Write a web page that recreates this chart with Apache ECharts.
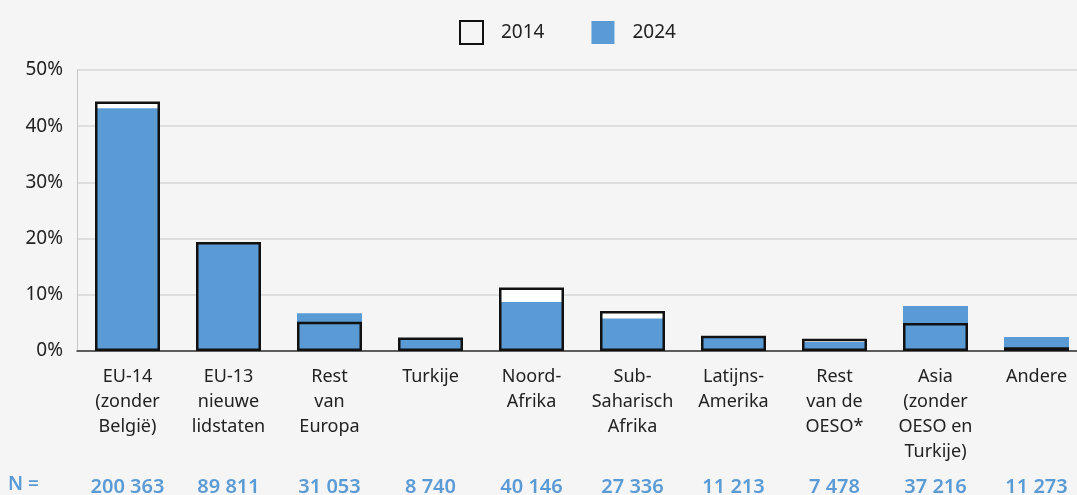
<!DOCTYPE html>
<html lang="nl">
<head>
    <meta charset="UTF-8">
    <title>Herkomst 2014 - 2024</title>
    <script src="https://cdn.jsdelivr.net/npm/echarts@6/dist/echarts.min.js"></script>
    <style>
        html, body { margin: 0; padding: 0; background: #f5f5f5; }
        #chart { width: 1077px; height: 495px; }
    </style>
</head>
<body>
<div id="chart"></div>
<script type="text/javascript">
    // categorieën en waarden (in %)
    let categories = ['EU-14\n(zonder\nBelgië)', 'EU-13\nnieuwe\nlidstaten', 'Rest\nvan\nEuropa', 'Turkije',
        'Noord-\nAfrika', 'Sub-\nSaharisch\nAfrika', 'Latijns-\nAmerika', 'Rest\nvan de\nOESO*',
        'Asia\n(zonder\nOESO en\nTurkije)', 'Andere'];
    let values2014 = [44.4, 19.4, 5.2, 2.4, 11.3, 7.1, 2.7, 2.2, 5.0, 0.65];
    let values2024 = [43.2, 19.3, 6.7, 2.1, 8.7, 5.8, 2.6, 1.6, 8.0, 2.5];
    let nLabels = ['200 363', '89 811', '31 053', '8 740', '40 146', '27 336', '11 213', '7 478', '37 216', '11 273'];

    let blue = '#5a9bd5';
    let font = 'Noto Sans';

    let option = {
        backgroundColor: '#f5f5f5',
        textStyle: { fontFamily: font },
        animation: false,
        legend: {
            left: 454,
            top: 15,
            icon: 'rect',
            itemWidth: 23,
            itemHeight: 23,
            itemGap: 47,
            textStyle: { fontSize: 19, color: '#222', padding: [0, 0, 0, 13] },
            data: [
                { name: '2014', itemStyle: { color: '#f5f5f5', borderColor: '#111', borderWidth: 2 } },
                { name: '2024', itemStyle: { color: blue } }
            ]
        },
        grid: { left: 77, right: -10, top: 70, bottom: 144, containLabel: false, outerBoundsMode: 'none' },
        graphic: [{
            type: 'text',
            left: 8,
            top: 475,
            style: { text: 'N =', fill: blue, font: '600 19px "Noto Sans"' }
        }],
        xAxis: [{
            type: 'category',
            data: categories,
            axisLine: { lineStyle: { color: '#333', width: 1.5 } },
            axisTick: { show: false },
            axisLabel: { color: '#222', fontSize: 18, lineHeight: 25, margin: 13, interval: 0 }
        }, {
            type: 'category',
            data: nLabels,
            position: 'bottom',
            offset: 118,
            axisLine: { show: false },
            axisTick: { show: false },
            axisLabel: { color: blue, fontSize: 20, fontWeight: 600, interval: 0 }
        }],
        yAxis: {
            type: 'value',
            min: 0,
            max: 50,
            interval: 10,
            axisLine: { show: true, lineStyle: { color: '#c8c8c8' } },
            axisLabel: { formatter: '{value}%', color: '#222', fontSize: 19, margin: 14 },
            splitLine: { lineStyle: { color: '#d6d6d6', width: 1.5 } }
        },
        series: [
            {
                // witte achtergrond van 2014
                name: '2014', type: 'bar', data: values2014, barWidth: 65, barGap: '-100%', z: 1,
                itemStyle: { color: '#ffffff' }
            },
            {
                name: '2024', type: 'bar', data: values2024, barWidth: 65, barGap: '-100%', z: 2,
                itemStyle: { color: blue }
            },
            {
                // zwarte rand van 2014 bovenop
                name: '2014', type: 'bar', data: values2014, barWidth: 65, barGap: '-100%', z: 3,
                itemStyle: { color: 'rgba(0,0,0,0)', borderColor: '#111', borderWidth: 2.5 }
            }
        ]
    };

    let myChart = echarts.init(document.getElementById('chart'));
    myChart.setOption(option);
</script>
</body>
</html>
